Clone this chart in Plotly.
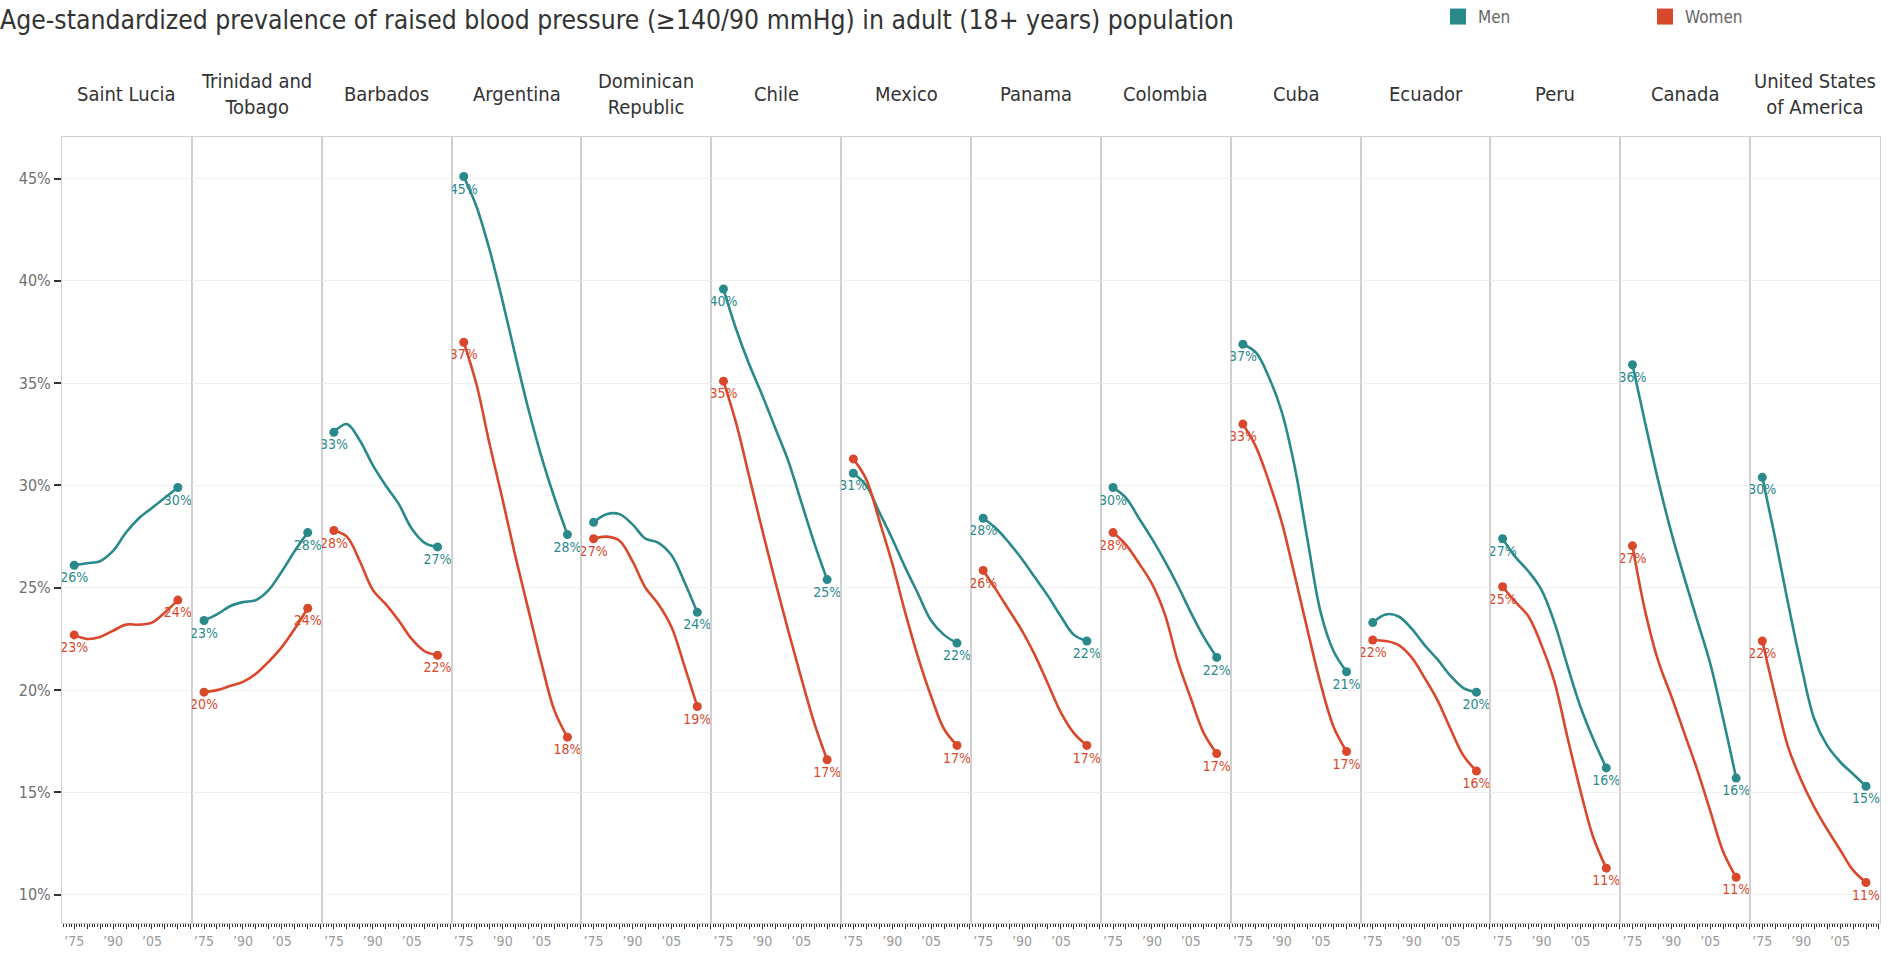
import plotly.graph_objects as go
from plotly.subplots import make_subplots

TITLE = "Age-standardized prevalence of raised blood pressure (≥140/90 mmHg) in adult (18+ years) population"

COUNTRIES = ["Saint Lucia", "Trinidad and<br>Tobago", "Barbados", "Argentina", "Dominican<br>Republic",
             "Chile", "Mexico", "Panama", "Colombia", "Cuba", "Ecuador", "Peru", "Canada",
             "United States<br>of America"]

YEARS = [1975, 1980, 1985, 1990, 1995, 2000, 2005, 2010, 2015]

MEN = [
    [26.1, 26.2, 26.3, 26.8, 27.7, 28.4, 28.9, 29.4, 29.9],   # Saint Lucia
    [23.4, 23.7, 24.1, 24.3, 24.4, 24.9, 25.8, 26.8, 27.7],   # Trinidad and Tobago
    [32.6, 33.0, 32.2, 31.0, 30.0, 29.1, 27.9, 27.2, 27.0],   # Barbados
    [45.1, 43.6, 41.5, 39.0, 36.3, 33.7, 31.4, 29.4, 27.6],   # Argentina
    [28.2, 28.6, 28.6, 28.1, 27.4, 27.2, 26.6, 25.3, 23.8],   # Dominican Republic
    [39.6, 37.6, 35.9, 34.4, 32.8, 31.2, 29.2, 27.2, 25.4],   # Chile
    [30.6, 30.0, 28.7, 27.4, 26.0, 24.7, 23.4, 22.7, 22.3],   # Mexico
    [28.4, 27.9, 27.2, 26.4, 25.5, 24.6, 23.6, 22.7, 22.4],   # Panama
    [29.9, 29.4, 28.4, 27.4, 26.3, 25.1, 23.8, 22.6, 21.6],   # Colombia
    [36.9, 36.5, 35.3, 33.6, 30.9, 27.3, 23.8, 21.9, 20.9],   # Cuba
    [23.3, 23.7, 23.6, 23.0, 22.2, 21.5, 20.7, 20.1, 19.9],   # Ecuador
    [27.4, 26.5, 25.8, 24.9, 23.3, 21.2, 19.2, 17.6, 16.2],   # Peru
    [35.9, 33.0, 30.2, 27.7, 25.5, 23.4, 21.3, 18.6, 15.7],   # Canada
    [30.4, 27.4, 24.2, 21.2, 18.6, 17.3, 16.5, 15.9, 15.3],   # United States of America
]

WOMEN = [
    [22.7, 22.5, 22.6, 22.9, 23.2, 23.2, 23.3, 23.8, 24.4],   # Saint Lucia
    [19.9, 20.0, 20.2, 20.4, 20.8, 21.4, 22.1, 23.0, 24.0],   # Trinidad and Tobago
    [27.8, 27.5, 26.3, 24.9, 24.2, 23.4, 22.5, 21.9, 21.7],   # Barbados
    [37.0, 34.9, 32.0, 29.3, 26.5, 23.9, 21.3, 19.0, 17.7],   # Argentina
    [27.4, 27.5, 27.3, 26.3, 25.0, 24.2, 23.1, 21.2, 19.2],   # Dominican Republic
    [35.1, 33.0, 30.4, 27.8, 25.3, 22.9, 20.6, 18.4, 16.6],   # Chile
    [31.3, 30.3, 28.3, 26.2, 23.8, 21.6, 19.7, 18.1, 17.3],   # Mexico
    [25.85, 24.9, 23.9, 22.9, 21.7, 20.3, 18.9, 17.9, 17.3],  # Panama
    [27.7, 27.1, 26.2, 25.2, 23.7, 21.4, 19.6, 17.9, 16.9],   # Colombia
    [33.0, 31.9, 30.2, 28.2, 25.6, 22.9, 20.3, 18.2, 17.0],   # Cuba
    [22.45, 22.4, 22.2, 21.6, 20.6, 19.5, 18.1, 16.8, 16.05], # Ecuador
    [25.05, 24.3, 23.6, 22.2, 20.4, 17.7, 15.1, 12.8, 11.3],  # Peru
    [27.05, 23.8, 21.4, 19.7, 17.9, 16.1, 14.1, 12.1, 10.85], # Canada
    [22.4, 19.7, 17.2, 15.6, 14.3, 13.2, 12.2, 11.2, 10.6],   # United States of America
]

# endpoint labels hidden in the original because they overlap (panel index, series, endpoint index)
HIDDEN_LABELS = [(4, "Men", 0), (6, "Women", 0), (10, "Men", 0)]

Y_TICKS = [10, 15, 20, 25, 30, 35, 40, 45]
X_TICKS = [1975, 1980, 1985, 1990, 1995, 2000, 2005, 2010, 2015, 2020]
X_TICK_TEXT = ["’75", "", "", "’90", "", "", "’05", "", "", ""]

MEN_COLOR = "#2a8a8b"
WOMEN_COLOR = "#d9482b"
FONT = "Liberation Sans Narrow, DejaVu Sans Condensed, Arial Narrow, sans-serif"

W, H = 1898, 955
n = len(COUNTRIES)
fig = make_subplots(rows=1, cols=n, shared_yaxes=True, horizontal_spacing=0)

for i in range(n):
    for name, vals, color in (("Men", MEN[i], MEN_COLOR), ("Women", WOMEN[i], WOMEN_COLOR)):
        fig.add_trace(go.Scatter(
            x=YEARS, y=vals, mode="lines", line=dict(color=color, width=2.6, shape="spline", smoothing=1.0),
            showlegend=False, hoverinfo="skip"), row=1, col=i + 1)
        texts = []
        for k, idx in enumerate([0, len(vals) - 1]):
            if (i, name, k) in HIDDEN_LABELS:
                texts.append("")
            else:
                texts.append(f"{vals[idx]:.0f}%")
        fig.add_trace(go.Scatter(
            x=[YEARS[0], YEARS[-1]], y=[vals[0], vals[-1]], mode="markers+text",
            marker=dict(color=color, size=9), text=texts, textposition="bottom center",
            textfont=dict(color=color, size=14, family=FONT),
            showlegend=False, hoverinfo="skip"), row=1, col=i + 1)

# legend entries
for name, color in (("Men", MEN_COLOR), ("Women", WOMEN_COLOR)):
    fig.add_trace(go.Scatter(x=[None], y=[None], mode="markers", name=name,
                             marker=dict(symbol="square", size=18, color=color)), row=1, col=1)

for i in range(n):
    ax = "xaxis" if i == 0 else f"xaxis{i + 1}"
    ay = "yaxis" if i == 0 else f"yaxis{i + 1}"
    fig.layout[ax].update(
        range=[1970.3, 2020.4], tickmode="array", tickvals=X_TICKS, ticktext=X_TICK_TEXT,
        ticks="outside", ticklen=5, tickcolor="#333", tickwidth=1,
        minor=dict(tickmode="linear", tick0=1970, dtick=1, ticks="outside", ticklen=3,
                   tickcolor="#333", showgrid=False),
        showgrid=False, zeroline=False, showline=True, mirror=True, linecolor="#d0d0d0", linewidth=1,
        tickfont=dict(size=14, color="#9a9a9a", family=FONT), fixedrange=True, automargin=False)
    fig.layout[ay].update(
        range=[8.62, 47.03], tickmode="array", tickvals=Y_TICKS,
        ticktext=[f"{v}%" for v in Y_TICKS],
        showgrid=True, gridcolor="#f0f0f0", gridwidth=1, zeroline=False,
        showline=True, mirror=True, linecolor="#d0d0d0", linewidth=1,
        ticks="outside" if i == 0 else "", ticklen=7, tickcolor="#333", tickwidth=1.5,
        showticklabels=(i == 0), tickfont=dict(size=16, color="#707070", family=FONT),
        fixedrange=True, automargin=False)
    fig.add_annotation(text=COUNTRIES[i], xref="paper", yref="paper", x=(i + 0.5) / n, y=1 + 43 / 786,
                       xanchor="center", yanchor="middle", showarrow=False,
                       font=dict(size=20, color="#333", family=FONT))

fig.update_layout(
    width=W, height=H,
    margin=dict(l=62, r=18, t=137, b=32, pad=0, autoexpand=False),
    paper_bgcolor="white", plot_bgcolor="white",
    title=dict(text=TITLE, x=0, xref="container", xanchor="left", y=1 - 20 / H, yref="container",
               yanchor="middle", pad=dict(l=0, t=0, b=0, r=0),
               font=dict(size=26.3, color="#333", family=FONT)),
    legend=dict(orientation="h", x=1438 / W, y=1 - 17 / H, xref="container", yref="container",
                xanchor="left", yanchor="middle",
                entrywidth=162, entrywidthmode="pixels", font=dict(size=17, color="#666", family=FONT),
                itemclick=False, itemdoubleclick=False),
    font=dict(family=FONT),
)

fig.write_html("out.html", config={"displayModeBar": False},
               post_script="document.body.style.margin='0';document.body.style.overflow='hidden';")
